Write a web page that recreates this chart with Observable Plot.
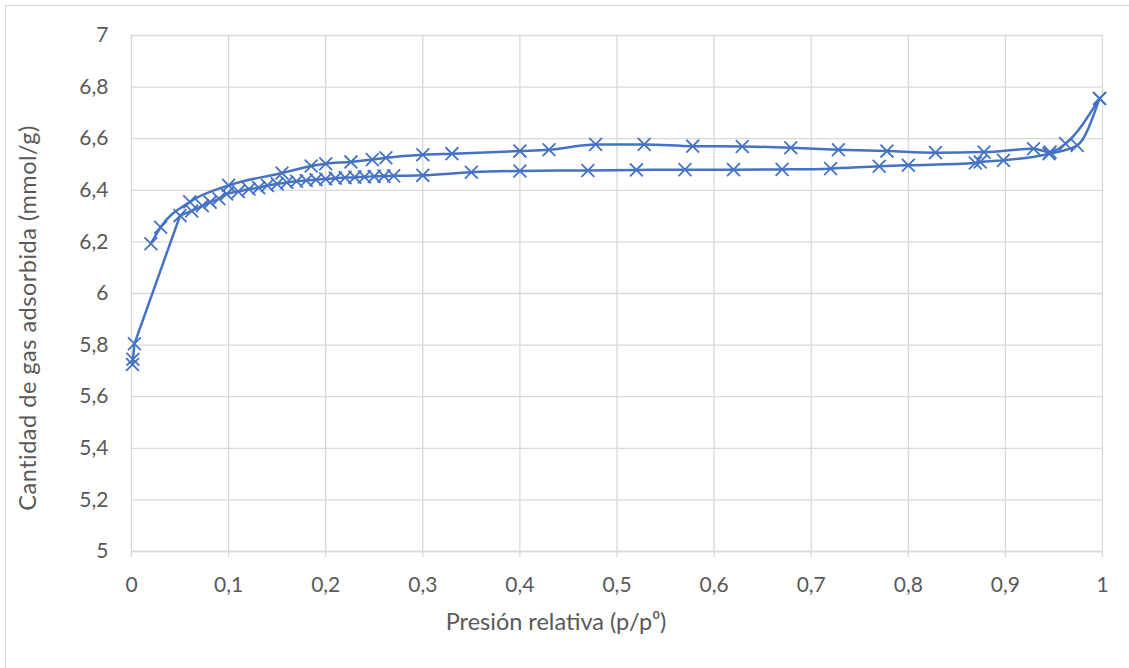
<!DOCTYPE html>
<html>
<head>
<meta charset="utf-8">
<script src="https://cdn.jsdelivr.net/npm/d3@7"></script>
<script src="https://cdn.jsdelivr.net/npm/@observablehq/plot@0.6"></script>
<style>
  html, body { margin: 0; padding: 0; background: #ffffff; }
  #wrap { position: relative; width: 1129px; height: 668px; overflow: hidden; font-family: Lato, "Open Sans", sans-serif; color: #595959; }
  #frame { position: absolute; left: 5px; top: 5px; width: 1200px; height: 800px; border-left: 1px solid #d9d9d9; border-top: 1px solid #d9d9d9; }
  #chart { position: absolute; left: 0; top: 0; }
  .title { position: absolute; white-space: nowrap; font-size: 23.5px; line-height: 23.5px; }
  #xtitle { left: 556px; top: 610px; transform: translateX(-50%); }
  #ytitle { left: 28px; top: 318px; transform: translate(-50%, -50%) rotate(-90deg); letter-spacing: 0.5px; }
</style>
</head>
<body>
<div id="wrap">
  <div id="frame"></div>
  <div id="chart"></div>
  <div class="title" id="xtitle">Presión relativa (p/p⁰)</div>
  <div class="title" id="ytitle">Cantidad de gas adsorbida (mmol/g)</div>
</div>
<script>
// Adsorption branch (lower)
const pAds = [0.001, 0.0015, 0.003, 0.05, 0.062, 0.073, 0.081, 0.09, 0.098, 0.11, 0.121, 0.131, 0.14, 0.15, 0.16, 0.17, 0.18, 0.19, 0.2, 0.21, 0.22, 0.23, 0.24, 0.25, 0.26, 0.27, 0.3, 0.35, 0.4, 0.47, 0.52, 0.57, 0.62, 0.67, 0.72, 0.77, 0.8, 0.869, 0.874, 0.898, 0.945, 0.974, 0.997];
const qAds = [5.725, 5.745, 5.805, 6.302, 6.32, 6.34, 6.354, 6.367, 6.386, 6.395, 6.405, 6.41, 6.419, 6.425, 6.43, 6.435, 6.438, 6.441, 6.444, 6.447, 6.449, 6.451, 6.452, 6.454, 6.455, 6.456, 6.458, 6.47, 6.475, 6.477, 6.479, 6.48, 6.48, 6.481, 6.484, 6.493, 6.497, 6.506, 6.51, 6.516, 6.542, 6.574, 6.756];
// Desorption branch (upper)
const pDes = [0.02, 0.03, 0.06, 0.1, 0.155, 0.185, 0.2, 0.226, 0.248, 0.262, 0.3, 0.33, 0.4, 0.43, 0.478, 0.528, 0.578, 0.629, 0.679, 0.728, 0.778, 0.828, 0.878, 0.929, 0.946, 0.962, 0.997];
const qDes = [6.193, 6.257, 6.355, 6.419, 6.467, 6.494, 6.503, 6.51, 6.519, 6.526, 6.538, 6.542, 6.552, 6.557, 6.578, 6.578, 6.571, 6.57, 6.565, 6.557, 6.552, 6.546, 6.548, 6.561, 6.548, 6.581, 6.756];

const xTicks = [0, 0.1, 0.2, 0.3, 0.4, 0.5, 0.6, 0.7, 0.8, 0.9, 1];
const xTickLabels = ["0", "0,1", "0,2", "0,3", "0,4", "0,5", "0,6", "0,7", "0,8", "0,9", "1"];
const yTicks = [5, 5.2, 5.4, 5.6, 5.8, 6, 6.2, 6.4, 6.6, 6.8, 7];
const yTickLabels = ["5", "5,2", "5,4", "5,6", "5,8", "6", "6,2", "6,4", "6,6", "6,8", "7"];

const ads = pAds.map((p, i) => ({p, q: qAds[i]}));
const des = pDes.map((p, i) => ({p, q: qDes[i]}));
// the steep initial rise is drawn straight (as the smoothed line appears), the rest smoothed
const adsStart = ads.slice(0, 4);
const adsRest = ads.slice(3);

const blue = "#4472c4";
const grid = "#d9d9d9";

const chart = Plot.plot({
  width: 1129,
  height: 668,
  marginLeft: 131,
  marginRight: 27,
  marginTop: 35,
  marginBottom: 117,
  x: {domain: [0, 1]},
  y: {domain: [5, 7]},
  style: {fontFamily: "Lato, 'Open Sans', sans-serif", fontSize: "21px", color: "#595959", background: "transparent", overflow: "visible"},
  marks: [
    Plot.gridX(xTicks, {stroke: grid, strokeOpacity: 1, strokeWidth: 1.3}),
    Plot.gridY(yTicks, {stroke: grid, strokeOpacity: 1, strokeWidth: 1.3}),
    Plot.ruleY([5], {stroke: grid, strokeWidth: 1.3}),
    Plot.axisX(xTicks, {tickSize: 6, tickPadding: 20, stroke: grid, strokeWidth: 1.3, fill: "#595959", label: null,
      tickFormat: d => xTickLabels[xTicks.indexOf(d)]}),
    Plot.axisY(yTicks, {tickSize: 0, tickPadding: 23, fill: "#595959", label: null,
      tickFormat: d => yTickLabels[yTicks.indexOf(d)]}),
    Plot.line(adsStart, {x: "p", y: "q", curve: "linear", stroke: blue, strokeWidth: 2.5, strokeLinejoin: "round"}),
    Plot.line(adsRest, {x: "p", y: "q", curve: "monotone-x", stroke: blue, strokeWidth: 2.5}),
    Plot.line(des, {x: "p", y: "q", curve: "monotone-x", stroke: blue, strokeWidth: 2.5}),
    Plot.dot(ads, {x: "p", y: "q", symbol: "times", r: 5.9, stroke: blue, strokeWidth: 1.8}),
    Plot.dot(des, {x: "p", y: "q", symbol: "times", r: 5.9, stroke: blue, strokeWidth: 1.8})
  ]
});
document.getElementById("chart").appendChild(chart);
</script>
</body>
</html>
